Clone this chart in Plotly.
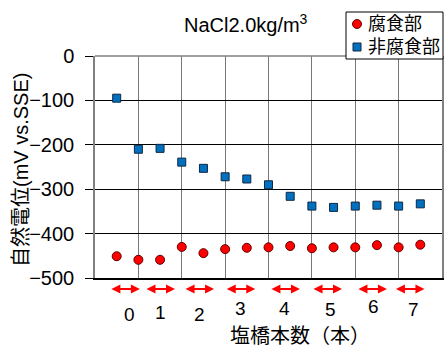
import plotly.graph_objects as go

# data
x_pos = list(range(1, 16))
corroded = [-451, -459, -459, -430, -444, -435, -432, -431, -428, -433, -431, -431, -426, -431, -425]
non_corroded = [-95, -210, -208, -239, -253, -272, -277, -290, -316, -338, -341, -338, -336, -338, -333]
series_names = ["腐食部", "非腐食部"]
bridge_labels = ["0", "1", "2", "3", "4", "5", "6", "7"]
label_x = [1.61, 3.04, 4.84, 6.73, 8.76, 10.88, 12.82, 14.7]
arrow_x = [1.38, 3.0, 4.8, 6.7, 8.76, 10.7, 12.77, 14.5]

FONT = "Liberation Sans, Arial, Noto Sans CJK JP, sans-serif"
RED, RED_EDGE = "#FF0000", "#600000"
BLUE, BLUE_EDGE = "#0070C0", "#102840"

fig = go.Figure()
fig.add_trace(go.Scatter(
    x=x_pos, y=corroded, mode="markers", name=series_names[0],
    marker=dict(symbol="circle", size=9, color=RED,
                line=dict(color=RED_EDGE, width=1)),
    cliponaxis=False, showlegend=False))
fig.add_trace(go.Scatter(
    x=x_pos, y=non_corroded, mode="markers", name=series_names[1],
    marker=dict(symbol="square", size=8, color=BLUE,
                line=dict(color=BLUE_EDGE, width=1)),
    cliponaxis=False, showlegend=False))

W, H = 446, 347
L, R, T, B = 95, 4, 56, 69
PW, PH = W - L - R, H - T - B


def py_to_paper(py):
    return ((H - B) - py) / PH


def px_to_paper(px):
    return (px - L) / PW


annotations = []
for ax_c in arrow_x:
    annotations.append(dict(
        x=ax_c + 0.69, y=py_to_paper(289), xref="x", yref="paper",
        ax=-30, ay=0, axref="pixel", ayref="pixel",
        text="", showarrow=True, arrowside="end+start",
        arrowhead=2, arrowsize=0.9, arrowwidth=2, arrowcolor="#FF0000"))

label_py = [314, 312, 314, 308, 308, 309, 306, 309]
for lx, lt, lpy in zip(label_x, bridge_labels, label_py):
    annotations.append(dict(
        x=lx, y=py_to_paper(lpy), xref="x", yref="paper", text=lt,
        showarrow=False, font=dict(family=FONT, size=19, color="black"),
        xanchor="center", yanchor="middle"))

annotations.append(dict(
    x=px_to_paper(300), y=py_to_paper(336),
    xref="paper", yref="paper", text="塩橋本数（本）", showarrow=False,
    font=dict(family=FONT, size=20, color="black"),
    xanchor="center", yanchor="middle"))

annotations.append(dict(
    x=px_to_paper(21), y=py_to_paper(170),
    xref="paper", yref="paper", text="自然電位(mV vs.SSE)", showarrow=False,
    textangle=-90, font=dict(family=FONT, size=20, color="black"),
    xanchor="center", yanchor="middle"))

annotations.append(dict(
    x=px_to_paper(246), y=py_to_paper(24),
    xref="paper", yref="paper", text="NaCl2.0kg/m<sup>3</sup>", showarrow=False,
    font=dict(family=FONT, size=20, color="black"),
    xanchor="center", yanchor="middle"))

# custom legend
for name, ty in zip(series_names, [24, 47]):
    annotations.append(dict(
        x=px_to_paper(366), y=py_to_paper(ty), xref="paper", yref="paper",
        text=name, showarrow=False, xanchor="left", yanchor="middle",
        font=dict(family=FONT, size=18, color="black")))

shapes = [
    dict(type="line", xref="paper", yref="paper", x0=0, x1=1, y0=1, y1=1,
         line=dict(color="#808080", width=1.5)),
    dict(type="rect", xref="paper", yref="paper",
         x0=px_to_paper(346), x1=px_to_paper(443),
         y0=py_to_paper(59), y1=py_to_paper(12),
         fillcolor="white", line=dict(color="black", width=1), layer="above"),
    dict(type="circle", xref="paper", yref="paper",
         x0=px_to_paper(352.5), x1=px_to_paper(361.5),
         y0=py_to_paper(28.5), y1=py_to_paper(19.5),
         fillcolor=RED, line=dict(color=RED_EDGE, width=1), layer="above"),
    dict(type="rect", xref="paper", yref="paper",
         x0=px_to_paper(353), x1=px_to_paper(361),
         y0=py_to_paper(51), y1=py_to_paper(43),
         fillcolor=BLUE, line=dict(color=BLUE_EDGE, width=1), layer="above"),
]

fig.update_layout(
    width=W, height=H,
    margin=dict(l=L, r=R, t=T, b=B, autoexpand=False),
    paper_bgcolor="white", plot_bgcolor="white",
    font=dict(family=FONT, color="black"),
    showlegend=False,
    annotations=annotations,
    shapes=shapes,
)
fig.update_xaxes(range=[0, 16], dtick=2, tick0=0, showticklabels=False,
                 showgrid=True, gridcolor="#777777", gridwidth=1.3,
                 zeroline=False, showline=True, linecolor="black", linewidth=1.5,
                 ticks="")
fig.update_yaxes(range=[-500, 0], dtick=100, tick0=0,
                 showgrid=True, gridcolor="black", gridwidth=1,
                 zeroline=False, showline=True, linecolor="#808080", linewidth=1.5,
                 mirror=True, ticks="outside", ticklen=8, tickcolor="black",
                 ticklabelstandoff=7,
                 tickfont=dict(family=FONT, size=20, color="black"))

fig.write_html("out.html", config={"displayModeBar": False},
               post_script="document.body.style.margin='0';")
